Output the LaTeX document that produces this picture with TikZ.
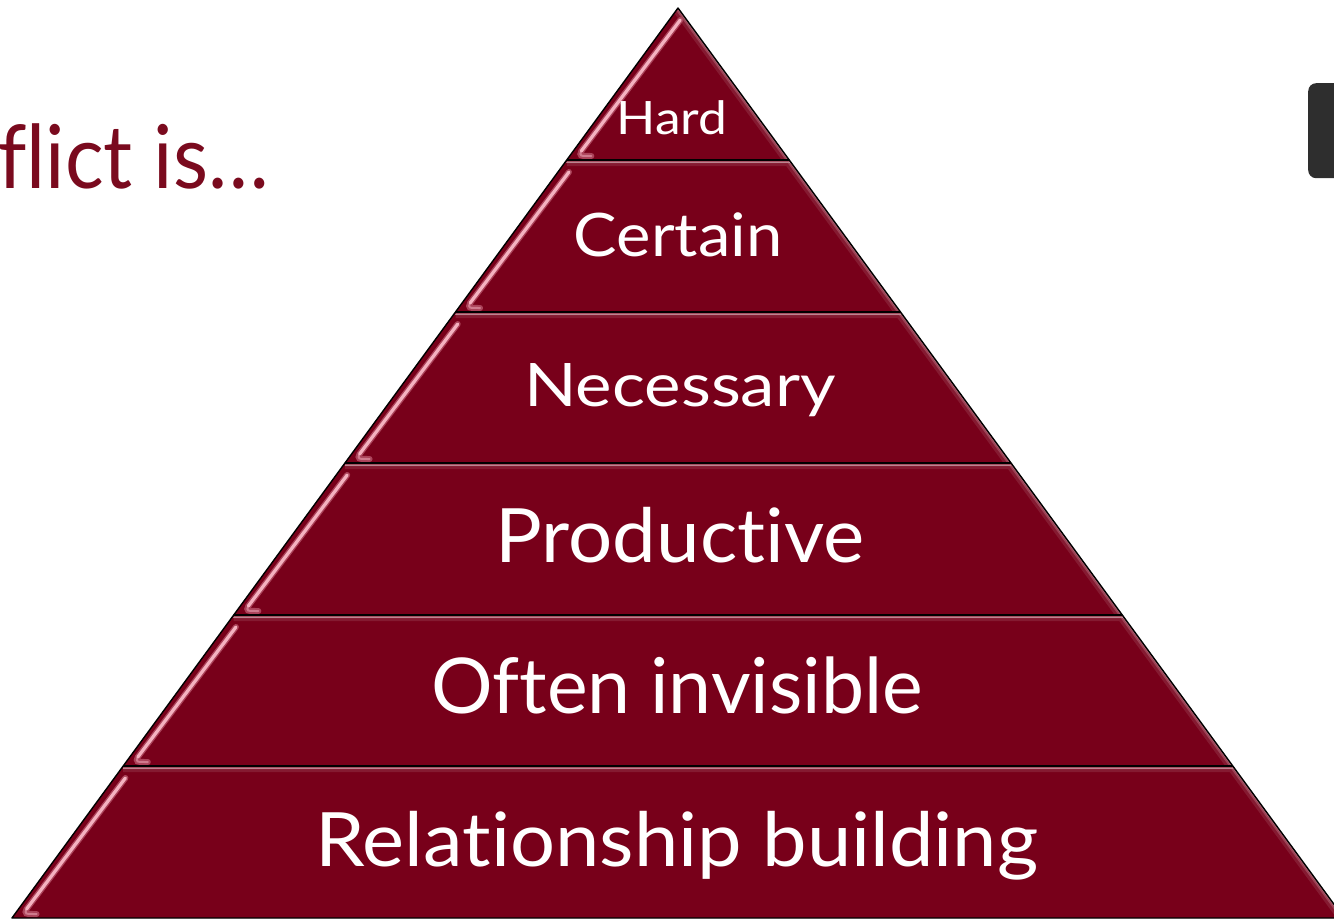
\documentclass[tikz,border=0pt]{standalone}
\usepackage{fontspec}
\setmainfont{Lato}[Ligatures=NoCommon]
\usetikzlibrary{calc}
\definecolor{wine}{HTML}{78001A}
\definecolor{titlered}{HTML}{7A0A1E}
\definecolor{gloss}{HTML}{F4B2C0}
\definecolor{glossedge}{HTML}{B8546A}
\definecolor{panelgray}{HTML}{2E2E2E}
\tikzset{
  layerfill/.style={fill=wine, draw=none},
  outline/.style={draw=black, line width=1.4pt, line join=round},
  layertext/.style={text=white, inner sep=0pt, anchor=base},
}
\newcommand{\xleftat}[1]{678-0.7319*(#1-8)}
\newcommand{\xrightat}[1]{678+0.7319*(#1-8)}
\begin{document}
\begin{tikzpicture}[x=1pt,y=-1pt]
\useasboundingbox (0,0) rectangle (1334,921);
\clip (0,0) rectangle (1334,921);

% pyramid layers: fill, inner sheen along top and right, glossy stripe on the left
\foreach \t/\b in {8/160,160/312,312/463,463/615,615/766,766/918} {
  \pgfmathsetmacro\xlt{\xleftat{\t}}
  \pgfmathsetmacro\xrt{\xrightat{\t}}
  \pgfmathsetmacro\xlb{\xleftat{\b}}
  \pgfmathsetmacro\xrb{\xrightat{\b}}
  \fill[layerfill] (\xlt,\t) -- (\xrt,\t) -- (\xrb,\b) -- (\xlb,\b) -- cycle;
  \begin{scope}
    \clip (\xlt,\t) -- (\xrt,\t) -- (\xrb,\b) -- (\xlb,\b) -- cycle;
    \draw[white, opacity=0.10, line width=12pt] (\xlt,\t) -- (\xrt,\t) -- (\xrb,\b);
    \draw[white, opacity=0.18, line width=6pt] (\xlt,\t) -- (\xrt,\t) -- (\xrb,\b);
    \draw[gloss, opacity=0.35, line width=2.5pt] (\xlt,\t) -- (\xrt,\t) -- (\xrb,\b);
    % glossy stripe near the left edge
    \pgfmathsetmacro\ys{\t+12}
    \pgfmathsetmacro\ye{\b-9}
    \pgfmathsetmacro\xs{\xleftat{\ys}+11}
    \pgfmathsetmacro\xe{\xleftat{\ye}+8}
    \draw[glossedge, opacity=0.8, line width=6pt, line cap=round]
      (\xs,\ys) -- (\xe,\ye) .. controls (\xe-2,\b-4) .. (\xe+10,\b-4);
    \draw[gloss, line width=3.2pt, line cap=round]
      (\xs,\ys) -- (\xe,\ye);
    \draw[gloss, opacity=0.5, line width=2pt, line cap=round]
      (\xe,\ye) .. controls (\xe-2,\b-4) .. (\xe+10,\b-4);
  \end{scope}
}

% outline and layer separators
\coordinate (apex) at (678,8);
\coordinate (baseL) at ({\xleftat{918}},918);
\coordinate (baseR) at ({\xrightat{918}},918);
\draw[outline] (apex) -- (baseR) -- (baseL) -- cycle;
\foreach \y in {160,312,463,615,766} {
  \draw[outline] ({\xleftat{\y}},\y) -- ({\xrightat{\y}},\y);
  \draw[white, opacity=0.35, line width=1pt] ({\xleftat{\y+2}+1},\y+2) -- ({\xrightat{\y+2}-1},\y+2);
}

% layer labels
\node[layertext, font=\fontsize{46}{50}\selectfont] (hard) at (672,134) {\scalebox{1.12}[1]{Hard}};
\node[layertext, font=\fontsize{60}{64}\selectfont] (certain) at (678,256) {\scalebox{1.085}[1]{Certain}};
\node[layertext, font=\fontsize{60}{64}\selectfont] (necessary) at (680,406) {\scalebox{1.15}[1]{Necessary}};
\node[layertext, font=\fontsize{75}{80}\selectfont] (productive) at (680,562) {\scalebox{1.04}[1]{Productive}};
\node[layertext, font=\fontsize{77}{82}\selectfont] (often) at (677,713) {Often invisible};
\node[layertext, font=\fontsize{75}{80}\selectfont] (relation) at (677,866) {\scalebox{1.06}[1]{Relationship building}};

% heading and side panel
\node[text=titlered, inner sep=0pt, anchor=base west, font=\fontsize{88}{92}\selectfont] (heading) at (-2,188) {\scalebox{0.92}[1]{flict is…}};
\node[fill=panelgray, rounded corners=8pt, minimum width=60pt, minimum height=95pt, anchor=north west, inner sep=0pt] (panel) at (1308,83) {};
\end{tikzpicture}
\end{document}
